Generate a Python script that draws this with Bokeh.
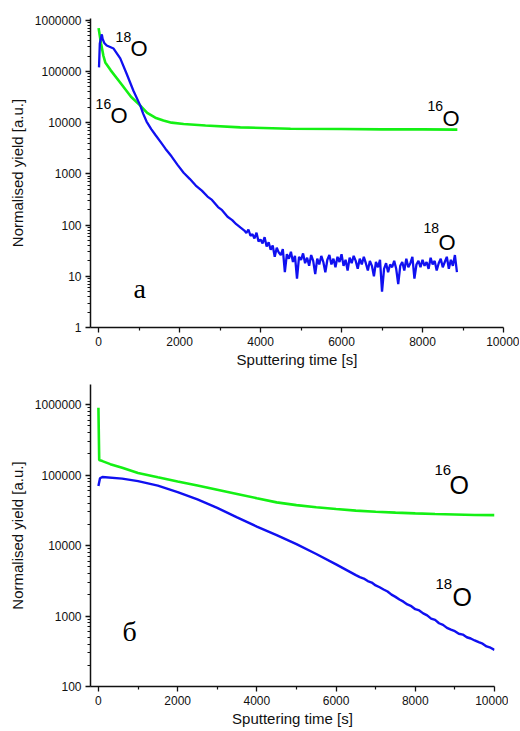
from bokeh.plotting import figure
from bokeh.layouts import column
from bokeh.models import FixedTicker, Label, CustomJSTickFormatter, Range1d
from bokeh.embed import file_html
from bokeh.resources import INLINE

# ---------------- data: panel (a) ----------------
a_o16_t = [0, 60, 120, 165, 300, 575, 800, 1030, 1200, 1400, 1600, 1800, 2100, 2640, 3500, 4740, 6000, 7000, 8000, 8860]
a_o16_y = [7.0e5, 3.5e5, 2.0e5, 1.5e5, 1.05e5, 5.5e4, 3.2e4, 2.15e4, 1.55e4, 1.25e4, 1.1e4, 1.0e4, 9.4e3, 8.8e3, 8.1e3, 7.6e3, 7.5e3, 7.4e3, 7.4e3, 7.3e3]

a_o18_head_t = [10, 30, 80, 100, 140, 200, 370, 535, 690, 860, 1030, 1100, 1185, 1300, 1400, 1530, 1650, 1800, 1950,
                2100, 2250, 2400, 2550, 2690, 2800, 2950, 3050, 3185, 3300, 3400, 3500]
a_o18_head_y = [1.2e5, 3.5e5, 5.3e5, 4.3e5, 3.6e5, 3.2e5, 2.8e5, 1.8e5, 9.1e4, 4.2e4, 2.15e4, 1.5e4, 1.05e4, 7.5e3, 5.8e3, 4.2e3, 3.1e3, 2.2e3, 1.5e3,
                1.05e3, 800, 590, 470, 360, 310, 225, 195, 145, 125, 104, 90]
# noisy tail, one value every 50 s from 3600 s
a_o18_tail_start = 3600
a_o18_tail_step = 50
a_o18_tail_y = [
    78, 70, 82, 62, 66, 55, 71, 48, 52, 44,
    58, 38, 46, 33, 40, 24, 36, 29, 26, 34,
    12, 27, 22, 30, 19, 25, 9, 24, 21, 28,
    18, 23, 16, 26, 20, 11, 22, 17, 25, 19,
    12, 21, 26, 17, 22, 15, 24, 19, 27, 16,
    21, 13, 23, 18, 25, 20, 14, 22, 17, 24,
    18, 13, 20, 16, 10, 19, 15, 21, 5, 14,
    18, 12, 17, 15, 20, 14, 7, 16, 19, 13,
    22, 15, 18, 24, 9, 17, 20, 15, 21, 16,
    19, 14, 23, 17, 20, 13, 18, 22, 15, 19,
    24, 14, 21, 16, 26, 12,
]

# ---------------- data: panel (б) ----------------
b_o16_t = [0, 20, 100, 300, 600, 1000, 1500, 2000, 2500, 3000, 3500, 4000, 4500, 5000, 5500, 6000,
           6500, 7000, 7500, 8000, 8500, 9000, 9500, 10000]
b_o16_y = [9.0e5, 1.64e5, 1.58e5, 1.43e5, 1.27e5, 1.07e5, 9.3e4, 8.1e4, 7.1e4, 6.2e4, 5.4e4, 4.7e4, 4.1e4, 3.75e4, 3.5e4, 3.3e4,
           3.13e4, 3.02e4, 2.93e4, 2.86e4, 2.8e4, 2.76e4, 2.72e4, 2.7e4]

b_o18_t = [0, 40, 100, 600, 1000, 1500, 2000, 2500, 3000, 3500, 4000, 4500, 5000, 5500, 6000,
           6500, 6600, 6700, 6800, 6900, 7000, 7100, 7200, 7300, 7400, 7500, 7600, 7700, 7800, 7900,
           8000, 8100, 8200, 8300, 8400, 8500, 8600, 8700, 8800, 8900, 9000, 9100, 9200, 9300, 9400,
           9500, 9600, 9700, 9800, 9900, 10000]
b_o18_y = [7.0e4, 9.0e4, 9.4e4, 8.9e4, 8.2e4, 7.1e4, 5.75e4, 4.52e4, 3.43e4, 2.51e4, 1.86e4, 1.41e4, 1.05e4, 7.6e3, 5.4e3,
           3800, 3560, 3400, 3130, 2990, 2720, 2560, 2380, 2230, 2010, 1870, 1720, 1600, 1460, 1380,
           1250, 1200, 1090, 1020, 920, 880, 790, 750, 680, 640, 610, 560, 545, 500, 480,
           450, 425, 405, 370, 355, 330]

x_ticks = [0, 2000, 4000, 6000, 8000, 10000]
x_minor = [1000, 3000, 5000, 7000, 9000]
a_y_ticks = [1, 10, 100, 1000, 10000, 100000, 1000000]
b_y_ticks = [100, 1000, 10000, 100000, 1000000]

GREEN = "#14f014"
BLUE = "#1010f0"
SANS = "Liberation Sans"
SERIF = "Liberation Serif"
Y_TITLE = "Normalised yield [a.u.]"
X_TITLE = "Sputtering time [s]"


def minor_log(ticks):
    out = []
    for d in [ticks[0] / 10] + ticks:
        for k in range(2, 10):
            out.append(d * k)
    return out


def make_fig(frame_w, frame_h, y_lo, y_hi, y_ticks, left, top, bottom):
    p = figure(frame_width=frame_w, frame_height=frame_h, y_axis_type="log",
               x_range=Range1d(-200, 10000), y_range=Range1d(y_lo, y_hi),
               output_backend="svg", toolbar_location=None,
               min_border_left=left, min_border_top=top, min_border_bottom=bottom,
               min_border_right=16)
    p.outline_line_color = None
    p.background_fill_color = "white"
    p.border_fill_color = "white"
    p.xgrid.visible = False
    p.ygrid.visible = False
    p.xaxis.ticker = FixedTicker(ticks=x_ticks, minor_ticks=x_minor)
    p.yaxis.ticker = FixedTicker(ticks=y_ticks, minor_ticks=minor_log(y_ticks))
    p.yaxis.formatter = CustomJSTickFormatter(code="return Math.round(tick).toString();")
    p.xaxis.formatter = CustomJSTickFormatter(code="return Math.round(tick).toString();")
    for ax in (p.xaxis[0], p.yaxis[0]):
        ax.axis_line_width = 1.5
        ax.axis_line_color = "#111111"
        ax.major_tick_line_color = "#111111"
        ax.minor_tick_line_color = "#111111"
        ax.major_tick_line_width = 1.3
        ax.minor_tick_line_width = 1.2
        ax.major_tick_out = 5
        ax.major_tick_in = 0
        ax.minor_tick_out = 3
        ax.minor_tick_in = 0
        ax.major_label_text_font = SANS
        ax.major_label_text_font_size = "12px"
        ax.major_label_text_color = "#111111"
        ax.major_label_standoff = 4
        ax.axis_label_text_font = SANS
        ax.axis_label_text_font_size = "15px"
        ax.axis_label_text_font_style = "normal"
        ax.axis_label_text_color = "#111111"
    p.xaxis.axis_label = X_TITLE
    p.yaxis.axis_label = Y_TITLE
    p.xaxis.axis_label_standoff = 2
    p.yaxis.axis_label_standoff = 6
    return p


def iso_label(p, sup, x1, y1, x2, y2, sup_size, o_size):
    p.add_layout(Label(x=x1, y=y1, text=sup, text_font=SANS, text_font_size=sup_size,
                       text_baseline="alphabetic", text_align="left", text_color="black"))
    p.add_layout(Label(x=x2, y=y2, text="O", text_font=SANS, text_font_size=o_size,
                       text_baseline="alphabetic", text_align="left", text_color="black"))


# ---------------- panel (a) ----------------
p1 = make_fig(413, 309, 1, 1.08e6, a_y_ticks, 90, 18, 42)
p1.line(a_o16_t, a_o16_y, line_color=GREEN, line_width=2.6)
a_tail_t = [a_o18_tail_start + a_o18_tail_step * i for i in range(len(a_o18_tail_y))]
p1.line(a_o18_head_t + a_tail_t, a_o18_head_y + a_o18_tail_y, line_color=BLUE, line_width=2.3)

iso_label(p1, "18", 420, 4.64e5, 790, 2.82e5, "14px", "22px")
iso_label(p1, "16", -74, 2.36e4, 296, 1.37e4, "14px", "22px")
iso_label(p1, "16", 8123, 2.16e4, 8493, 1.2e4, "14px", "22px")
iso_label(p1, "18", 8024, 87, 8395, 46, "14px", "22px")
p1.add_layout(Label(x=864, y=5.8, text="a", text_font=SERIF, text_font_size="28px",
                    text_baseline="alphabetic", text_align="left", text_color="black"))

# ---------------- panel (б) ----------------
p2 = make_fig(404, 302, 100, 1.93e6, b_y_ticks, 88, 14, 44)
p2.line(b_o16_t, b_o16_y, line_color=GREEN, line_width=2.6)
p2.line(b_o18_t, b_o18_y, line_color=BLUE, line_width=2.4)

iso_label(p2, "16", 8484, 1.2e5, 8863, 7.3e4, "15px", "25px")
iso_label(p2, "18", 8509, 2.89e3, 8939, 1.89e3, "15px", "25px")
p2.add_layout(Label(x=606, y=603, text="б", text_font=SERIF, text_font_size="28px",
                    text_baseline="alphabetic", text_align="left", text_color="black"))

layout = column(p1, p2)
open("out.html", "w").write(file_html(layout, INLINE))
